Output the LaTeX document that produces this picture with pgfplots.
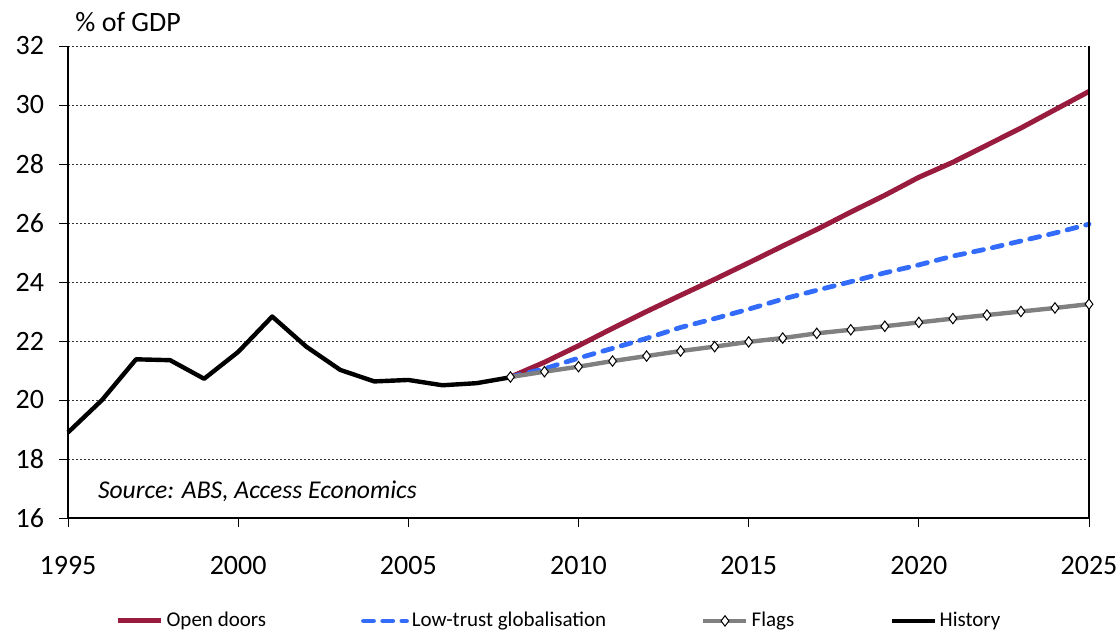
\documentclass[border=0pt]{standalone}
\usepackage{pgfplots}
\pgfplotsset{compat=1.18}
\usepackage{fontspec}
\setmainfont{Carlito}

\definecolor{opendoors}{RGB}{153,27,62}
\definecolor{lowtrust}{RGB}{51,108,250}
\definecolor{flags}{RGB}{128,128,128}

\begin{document}
\begin{tikzpicture}
\useasboundingbox (0,0) rectangle (559pt,314.5pt);
\begin{axis}[
  at={(34pt,55.5pt)}, anchor=south west,
  scale only axis,
  width=510.5pt, height=236pt,
  xmin=1995, xmax=2025,
  ymin=16, ymax=32,
  xtick={1995,2000,...,2025},
  ytick={16,18,...,32},
  axis x line*=bottom,
  axis y line*=left,
  axis line style={line width=0.6pt, black},
  tick align=outside,
  major tick length=4.5pt,
  tick style={line width=0.5pt, black},
  ymajorgrids,
  major grid style={line width=0.5pt, black!80, dash pattern=on 1.2pt off 0.8pt},
  /pgf/number format/assume math mode=true,
  /pgf/number format/1000 sep={},
  ticklabel style={font=\fontsize{14}{16}\selectfont},
  xticklabel style={yshift=-11pt},
  yticklabel style={xshift=-4pt},
  clip=false,
  legend columns=4,
  legend style={
    at={(0.4814,-0.218)}, anchor=center,
    draw=none, fill=none,
    font=\fontsize{10.5}{12}\selectfont,
    /tikz/every even column/.append style={column sep=46pt},
    nodes={inner xsep=1.5pt},
  },
  legend image code/.code={%
    \draw[mark repeat=2, mark phase=2, #1]
      plot coordinates {(0pt,0pt) (10.75pt,0pt) (21.5pt,0pt)};},
]

% Scenario projections
\addplot[opendoors, line width=2.5pt, line join=round] coordinates {
  (2008,20.78) (2009,21.28) (2010,21.84) (2011,22.43) (2012,23.00)
  (2013,23.55) (2014,24.09) (2015,24.65) (2016,25.22) (2017,25.78)
  (2018,26.37) (2019,26.94) (2020,27.55) (2021,28.06) (2022,28.64)
  (2023,29.22) (2024,29.84) (2025,30.46)};
\addlegendentry{Open doors}

\addplot[lowtrust, line width=2.4pt, line cap=round, dash pattern=on 5pt off 4.6pt] coordinates {
  (2008,20.78) (2009,21.06) (2010,21.42) (2011,21.75) (2012,22.09)
  (2013,22.46) (2014,22.76) (2015,23.08) (2016,23.42) (2017,23.72)
  (2018,24.01) (2019,24.31) (2020,24.58) (2021,24.88) (2022,25.12)
  (2023,25.39) (2024,25.66) (2025,25.96)};
\addlegendentry{Low-trust globalisation}

\addplot[flags, line width=2.2pt, mark=diamond*,
  mark size=2.6pt,
  mark options={solid, fill=white, draw=black, line width=0.5pt}] coordinates {
  (2008,20.78) (2009,20.96) (2010,21.13) (2011,21.32) (2012,21.49)
  (2013,21.66) (2014,21.81) (2015,21.97) (2016,22.10) (2017,22.26)
  (2018,22.38) (2019,22.50) (2020,22.63) (2021,22.76) (2022,22.88)
  (2023,23.00) (2024,23.12) (2025,23.25)};
\addlegendentry{Flags}

% Historical series
\addplot[black, line width=2.2pt, line join=round] coordinates {
  (1995,18.90) (1996,20.00) (1997,21.38) (1998,21.35) (1999,20.72)
  (2000,21.63) (2001,22.83) (2002,21.81) (2003,21.02) (2004,20.63)
  (2005,20.68) (2006,20.50) (2007,20.57) (2008,20.77)};
\addlegendentry{History}

% right-hand border of the plot area
\draw[line width=0.6pt, black] (rel axis cs:1,0) -- (rel axis cs:1,1);

\node[anchor=west, font=\fontsize{14}{16}\selectfont, inner sep=0pt]
  at (rel axis cs:0.0069,1.0508) {\% of GDP};
\node[anchor=west, font=\fontsize{12.8}{14}\selectfont\itshape, inner sep=0pt]
  at (rel axis cs:0.029,0.057) {Source: ABS, Access Economics};
\end{axis}
\end{tikzpicture}
\end{document}
